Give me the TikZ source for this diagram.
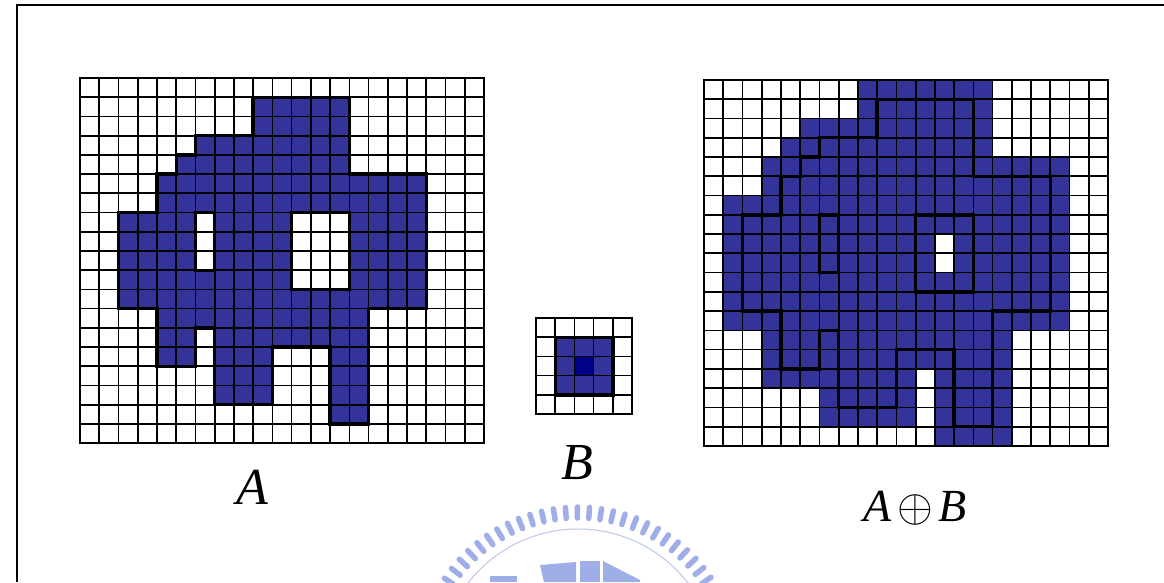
\documentclass[tikz,border=0pt]{standalone}
\usepackage{fix-cm}
\usepackage{fontspec}
\setmainfont{Liberation Serif}
\definecolor{cellblue}{RGB}{51,51,153}
\definecolor{cellnavy}{RGB}{0,0,135}
\definecolor{wmark}{RGB}{160,174,232}
\newcommand{\gridlines}[2]{%
  \foreach \i in {0,...,#1} \draw[gridline] (\i,0) -- (\i,#2);
  \foreach \j in {0,...,#2} \draw[gridline] (0,\j) -- (#1,\j);
  \draw[gridborder] (0,0) rectangle (#1,#2);}
\newcommand{\Ashape}[1]{%
  \path[#1] (9,1) -- (14,1) -- (14,5) -- (18,5) -- (18,12) -- (15,12) -- (15,18)
    -- (13,18) -- (13,14) -- (10,14) -- (10,17) -- (7,17) -- (7,13) -- (6,13)
    -- (6,15) -- (4,15) -- (4,12) -- (2,12) -- (2,7) -- (4,7) -- (4,5) -- (5,5)
    -- (5,4) -- (6,4) -- (6,3) -- (9,3) -- cycle
    (6,7) rectangle (7,10) (11,7) rectangle (14,11);}
\newcommand{\Dshape}[1]{%
  \path[#1] (8,0) -- (15,0) -- (15,4) -- (19,4) -- (19,13) -- (16,13) -- (16,19)
    -- (12,19) -- (12,15) -- (11,15) -- (11,18) -- (6,18) -- (6,16) -- (3,16)
    -- (3,13) -- (1,13) -- (1,6) -- (3,6) -- (3,4) -- (4,4) -- (4,3) -- (5,3)
    -- (5,2) -- (8,2) -- cycle
    (12,8) rectangle (13,10);}
\begin{document}
\begin{tikzpicture}[x=1pt,y=-1pt,
  gridline/.style={line width=1.7pt,black},
  gridborder/.style={line width=2.6pt,black},
  outline/.style={draw=black,line width=3.4pt,line join=miter},
  lbl/.style={font=\fontsize{52}{60}\selectfont\itshape,inner sep=0pt},
  lblsmall/.style={font=\fontsize{46}{54}\selectfont\itshape,inner sep=0pt},
  tick/.style={wmark,line width=5.5pt,line cap=round}]
\useasboundingbox (0,0) rectangle (1164,582);
\fill[white] (0,0) rectangle (1164,582);
% watermark
\begin{scope}
  \clip (0,0) rectangle (1164,582);
  \begin{scope}[shift={(578,668)}]
    \foreach \a in {30,34.3,...,150} \draw[tick] (\a:150pt) -- (\a:161pt);
    \draw[wmark!70,line width=1pt] (0,0) circle[radius=139pt];
  \end{scope}
  \fill[wmark] (490,576) rectangle (517,582);
  \fill[wmark] (540,565) -- (576,562) -- (576,582) -- (544,582) -- cycle;
  \fill[wmark] (580,561) rectangle (600,582);
  \fill[wmark] (603,561) -- (640,580) -- (640,582) -- (603,582) -- cycle;
\end{scope}
% frame
\draw[line width=2.5pt] (1164,5) -- (17,5) -- (17,582);
% grid A
\begin{scope}[shift={(80,78)},x=19.24pt,y=-19.22pt]
  \Ashape{fill=cellblue,even odd rule}
  \gridlines{21}{19}
  \Ashape{outline}
\end{scope}
% grid B
\begin{scope}[shift={(536,318)},x=19.2pt,y=-19.2pt]
  \fill[cellblue] (1,1) rectangle (4,4);
  \fill[cellnavy] (2,2) rectangle (3,3);
  \gridlines{5}{5}
  \draw[outline] (1,1) rectangle (4,4);
\end{scope}
% grid A (+) B
\begin{scope}[shift={(704,80)},x=19.24pt,y=-19.26pt]
  \Dshape{fill=cellblue,even odd rule}
  \gridlines{21}{19}
  \Ashape{outline}
\end{scope}
% labels
\node[lbl] (labA) at (252,487) {A};
\node[lbl] (labB) at (577,463) {B};
\node[lblsmall] (labAB) at (915,508) {A\kern6pt$\oplus$\kern6pt B};
\end{tikzpicture}
\end{document}
